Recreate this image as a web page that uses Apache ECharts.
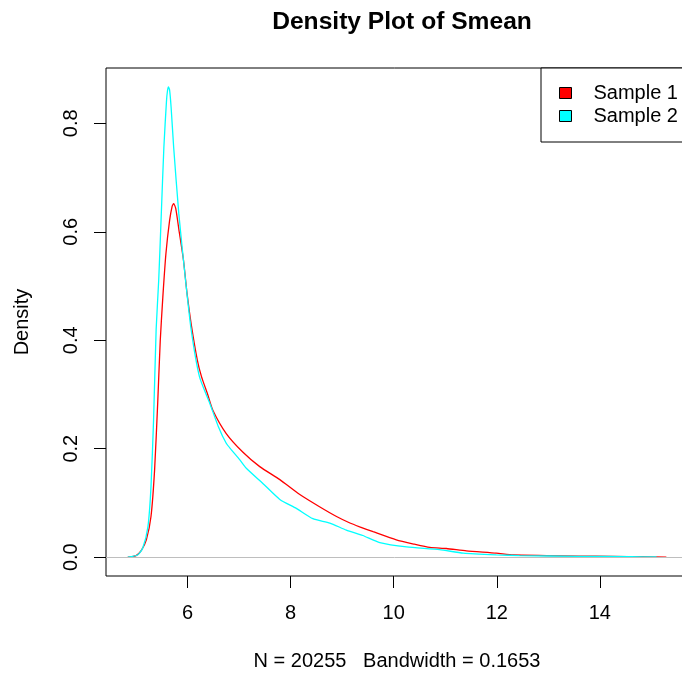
<!DOCTYPE html>
<html>
<head>
<meta charset="utf-8">
<script src="https://cdn.jsdelivr.net/npm/echarts@6/dist/echarts.min.js"></script>
<style>
html,body{margin:0;padding:0;background:#fff;}
#c{width:682px;height:674px;}
</style>
</head>
<body>
<div id="c"></div>
<script>
const seriesNames = ['Sample 1', 'Sample 2'];
const sample1 = [
  [4.84,0],[5.0,0.003],[5.1,0.012],[5.2,0.032],[5.29,0.075],[5.36,0.161],[5.42,0.284],
  [5.47,0.40],[5.52,0.48],[5.58,0.56],[5.65,0.62],[5.70,0.647],[5.73,0.652],[5.77,0.643],
  [5.83,0.605],[5.92,0.548],[5.99,0.486],[6.07,0.43],[6.19,0.363],[6.27,0.333],[6.39,0.30],
  [6.49,0.271],[6.75,0.228],[7.07,0.194],[7.40,0.167],[7.79,0.143],[8.17,0.116],[8.56,0.093],
  [8.89,0.075],[9.15,0.063],[9.34,0.056],[9.60,0.047],[10.05,0.032],[10.4,0.024],[10.70,0.018],
  [11.02,0.016],[11.41,0.0116],[11.99,0.0074],[12.32,0.004],[12.97,0.003],[13.6,0.002],
  [14.26,0.0015],[14.8,0.0008],[15.29,0]
];
const sample2 = [
  [4.84,0],[5.03,0.004],[5.13,0.017],[5.23,0.056],[5.29,0.130],[5.34,0.253],[5.39,0.42],
  [5.44,0.511],[5.49,0.633],[5.54,0.756],[5.59,0.84],[5.61,0.86],[5.63,0.867],[5.65,0.862],
  [5.68,0.83],[5.73,0.756],[5.83,0.633],[5.96,0.511],[6.07,0.419],[6.23,0.333],[6.43,0.284],
  [6.6,0.24],[6.75,0.210],[6.85,0.198],[7.01,0.18],[7.14,0.164],[7.46,0.136],[7.79,0.1065],
  [8.11,0.090],[8.43,0.071],[8.76,0.063],[9.08,0.050],[9.40,0.040],[9.73,0.027],[10.25,0.019],
  [10.89,0.014],[11.35,0.0074],[11.99,0.0042],[12.44,0.003],[13.6,0.0015],[14.6,0.001],[15.1,0.0003]
];
const xTicks = [6, 8, 10, 12, 14];
const yTicks = [0, 0.2, 0.4, 0.6, 0.8];
const titleText = 'Density Plot of Smean';
const xLabel = 'N = 20255   Bandwidth = 0.1653';
const yLabel = 'Density';

const FONT = '"Liberation Sans", Arial, Helvetica, sans-serif';
const chart = echarts.init(document.getElementById('c'), null, {renderer: 'canvas'});
chart.setOption({
  backgroundColor: '#fff',
  animation: false,
  textStyle: {fontFamily: FONT},
  title: {
    text: titleText,
    left: 397, top: 5, textAlign: 'center',
    textStyle: {fontFamily: FONT, fontSize: 24.6, fontWeight: 'bold', color: '#000'}
  },
  grid: {
    left: 106, top: 68, right: -6, bottom: 98,
    show: true, borderColor: '#000', borderWidth: 1, backgroundColor: 'transparent',
    containLabel: false, outerBoundsMode: 'none'
  },
  legend: {
    orient: 'vertical', left: 541, top: 68,
    padding: [15, 12, 16, 18],
    itemGap: 3, itemWidth: 12, itemHeight: 11,
    icon: 'rect',
    backgroundColor: '#fff', borderColor: '#000', borderWidth: 1, borderRadius: 0,
    itemStyle: {borderColor: '#000', borderWidth: 1},
    textStyle: {fontFamily: FONT, fontSize: 20, color: '#000', lineHeight: 20, padding: [0, 0, 0, 17]},
    data: seriesNames
  },
  xAxis: {
    type: 'value', min: 4.417, max: 15.71,
    name: xLabel, nameLocation: 'middle', nameGap: 75,
    nameTextStyle: {fontFamily: FONT, fontSize: 20, color: '#000'},
    axisLine: {show: false, onZero: false},
    splitLine: {show: false},
    axisTick: {show: true, length: 12, customValues: xTicks, lineStyle: {color: '#000', width: 1}},
    axisLabel: {customValues: xTicks, margin: 27, fontFamily: FONT, fontSize: 20, color: '#000', formatter: v => String(v)}
  },
  yAxis: {
    type: 'value', min: -0.0347, max: 0.902,
    name: yLabel, nameLocation: 'middle', nameGap: 74, nameRotate: 90,
    nameTextStyle: {fontFamily: FONT, fontSize: 20, color: '#000'},
    axisLine: {show: false, onZero: false},
    splitLine: {show: false},
    axisTick: {show: true, length: 12, customValues: yTicks, lineStyle: {color: '#000', width: 1}},
    axisLabel: {customValues: yTicks, rotate: 90, margin: 35, align: 'center', verticalAlign: 'middle',
      fontFamily: FONT, fontSize: 20, color: '#000', formatter: v => v.toFixed(1)}
  },
  series: [
    {
      name: seriesNames[0], type: 'line', data: sample1, showSymbol: false, smooth: 0.2,
      color: '#ff0000', lineStyle: {color: '#ff0000', width: 1.3},
      markLine: {
        silent: true, symbol: 'none', label: {show: false},
        lineStyle: {color: '#bebebe', width: 1, type: 'solid'},
        data: [{yAxis: 0}]
      },
      z: 2
    },
    {
      name: seriesNames[1], type: 'line', data: sample2, showSymbol: false, smooth: 0.2,
      color: '#00ffff', lineStyle: {color: '#00ffff', width: 1.3},
      z: 3
    }
  ]
});
</script>
</body>
</html>
